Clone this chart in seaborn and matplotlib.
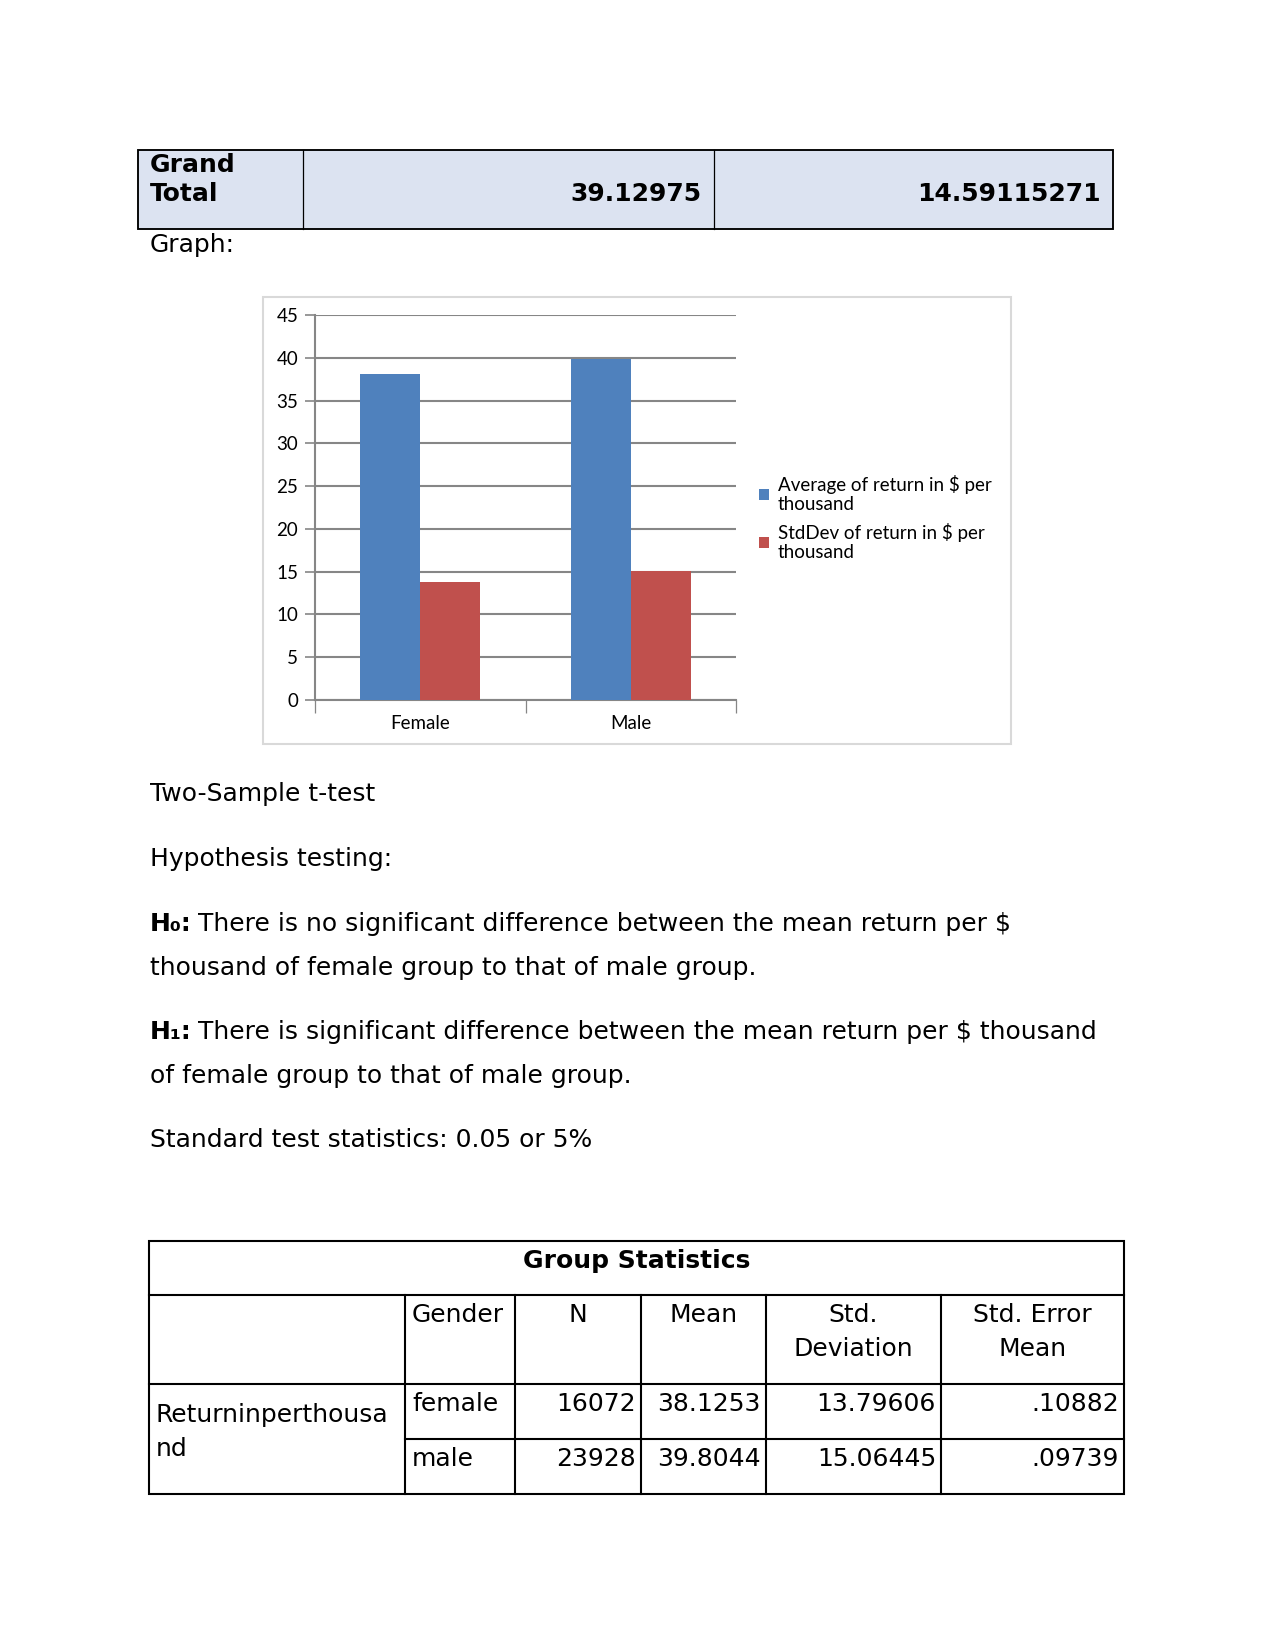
import pandas as pd
import seaborn as sns
import matplotlib.pyplot as plt
from matplotlib.patches import Rectangle
from matplotlib.lines import Line2D

# data
genders = ['Female', 'Male']
avg_return = [38.1253, 39.8044]
std_return = [13.79606, 15.06445]
series_names = ['Average of return in $ per\nthousand', 'StdDev of return in $ per\nthousand']
grand_total = ['39.12975', '14.59115271']

stat_gender = ['female', 'male']
stat_n = ['16072', '23928']
stat_mean = ['38.1253', '39.8044']
stat_sd = ['13.79606', '15.06445']
stat_se = ['.10882', '.09739']

W, H = 1275, 1650
fig = plt.figure(figsize=(8.5, 11), dpi=150)
fig.patch.set_facecolor('white')

def fx(px):
    return px / W

def fy(py):
    return 1 - py / H

def box(x0, y0, x1, y1, fc='none', ec='black', lw=1.0):
    fig.add_artist(Rectangle((fx(x0), fy(y1)), fx(x1) - fx(x0), fy(y0) - fy(y1),
                             transform=fig.transFigure, facecolor=fc, edgecolor=ec, linewidth=lw))

def vline(x, y0, y1, color='black', lw=1.0):
    fig.add_artist(Line2D([fx(x), fx(x)], [fy(y0), fy(y1)], transform=fig.transFigure, color=color, linewidth=lw))

def hline(y, x0, x1, color='black', lw=1.0):
    fig.add_artist(Line2D([fx(x0), fx(x1)], [fy(y), fy(y)], transform=fig.transFigure, color=color, linewidth=lw))

def txt(x, y, s, ha='left', weight='normal', size=12):
    return fig.text(fx(x), fy(y), s, ha=ha, va='center', fontsize=size, fontweight=weight,
                    family='DejaVu Sans')

# top table (Grand Total)
box(138, 150, 1113, 229, fc='#dce3f1', ec='black', lw=0.9)
vline(303, 150, 229, lw=0.6)
vline(714, 150, 229, lw=0.6)
txt(150, 165, 'Grand', weight='bold')
txt(150, 194, 'Total', weight='bold')
txt(702, 194, grand_total[0], ha='right', weight='bold')
txt(1101, 194, grand_total[1], ha='right', weight='bold')
txt(150, 245, 'Graph:')

# chart
box(263, 297, 1011, 744, ec='#d9d9d9', lw=1.0)
ax = fig.add_axes([fx(315), fy(700), fx(736) - fx(315), fy(315) - fy(700)])

df = pd.DataFrame({
    'Gender': genders * 2,
    'Value': avg_return + std_return,
    'Series': [series_names[0]] * 2 + [series_names[1]] * 2,
})
sns.barplot(data=df, x='Gender', y='Value', hue='Series', palette=['#4f81bd', '#c0504d'],
            width=0.57, saturation=1, edgecolor='none', ax=ax, zorder=3)

ax.set_ylim(0, 45)
ax.set_xlim(-0.5, 1.5)
ax.set_yticks(range(0, 46, 5))
ax.set_xlabel('')
ax.set_ylabel('')
ax.set_facecolor('none')
ax.grid(axis='y', color='#868686', linewidth=1.0, zorder=0)
ax.set_axisbelow(True)
for s in ['top', 'right']:
    ax.spines[s].set_visible(False)
for s in ['left', 'bottom']:
    ax.spines[s].set_color('#868686')
    ax.spines[s].set_linewidth(1.0)
ax.tick_params(axis='y', length=5, color='#868686', labelsize=9, pad=3)
ax.tick_params(axis='x', length=0, labelsize=9, pad=7)
for t in ax.get_xticklabels() + ax.get_yticklabels():
    t.set_family('Lato')
# category boundary ticks on x axis
ax.set_xticks([-0.5, 0.5, 1.5], minor=True)
ax.tick_params(axis='x', which='minor', length=6, color='#868686', direction='out')

leg = ax.legend(loc='center left', bbox_to_anchor=(fx(742), fy(518)),
                bbox_transform=fig.transFigure, frameon=False,
                handlelength=0.55, handleheight=0.55, handletextpad=0.45,
                labelspacing=0.55, prop={'family': 'Lato', 'size': 9})
for t in leg.get_texts():
    t.set_linespacing(1.1)

# hypothesis text
txt(150, 794, 'Two-Sample t-test')
txt(150, 859, 'Hypothesis testing:')

renderer = fig.canvas.get_renderer()

def bold_lead(y, lead, rest):
    t = txt(150, y, lead, weight='bold')
    bb = t.get_window_extent(renderer)
    x_end = bb.x1 / fig.dpi / fig.get_figwidth() * W
    txt(x_end + 6, y, rest)

bold_lead(924, 'H\u2080:', 'There is no significant difference between the mean return per $')
txt(150, 968, 'thousand of female group to that of male group.')
bold_lead(1032, 'H\u2081:', 'There is significant difference between the mean return per $ thousand')
txt(150, 1076, 'of female group to that of male group.')
txt(150, 1140, 'Standard test statistics: 0.05 or 5%')

# group statistics table
tl, tr = 149, 1124
rows = [1241, 1295, 1384, 1439, 1494]
cols = [405, 515, 641, 766, 941]
box(tl, rows[0], tr, rows[-1], lw=1.0)
hline(rows[1], tl, tr)
hline(rows[2], tl, tr)
hline(rows[3], cols[0], tr)
for c in cols:
    vline(c, rows[1], rows[-1])

txt((tl + tr) / 2, 1261, 'Group Statistics', ha='center', weight='bold')
txt(412, 1315, 'Gender')
txt((cols[1] + cols[2]) / 2, 1315, 'N', ha='center')
txt((cols[2] + cols[3]) / 2, 1315, 'Mean', ha='center')
txt((cols[3] + cols[4]) / 2, 1315, 'Std.', ha='center')
txt((cols[3] + cols[4]) / 2, 1349, 'Deviation', ha='center')
txt((cols[4] + tr) / 2, 1315, 'Std. Error', ha='center')
txt((cols[4] + tr) / 2, 1349, 'Mean', ha='center')
txt(156, 1415, 'Returninperthousa')
txt(156, 1449, 'nd')

for i, y in enumerate([1404, 1459]):
    txt(412, y, stat_gender[i])
    txt(cols[2] - 5, y, stat_n[i], ha='right')
    txt(cols[3] - 5, y, stat_mean[i], ha='right')
    txt(cols[4] - 5, y, stat_sd[i], ha='right')
    txt(tr - 5, y, stat_se[i], ha='right')

fig.savefig('out.png', dpi=150)
